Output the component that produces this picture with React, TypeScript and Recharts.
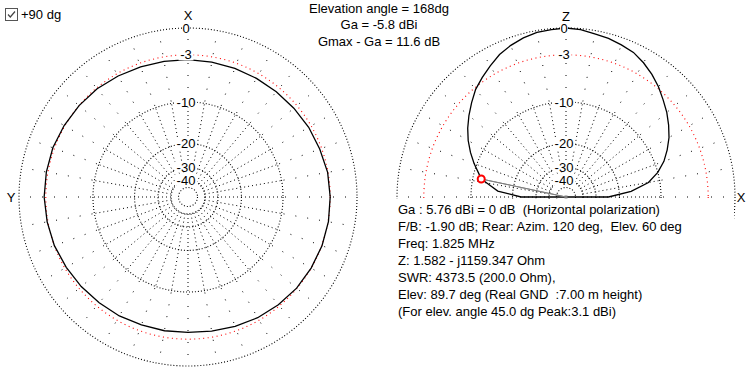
import { PolarAngleAxis, PolarGrid, PolarRadiusAxis, Radar, RadarChart } from "recharts";

// azimuth pattern, dB relative to Gmax, angle counter-clockwise from X (top)
const AZ_ANGLES = [
  0, 10, 20, 30, 40, 50, 60, 70, 80, 90, 100, 110, 120, 130, 140, 150, 160, 170,
  180, 190, 200, 210, 220, 230, 240, 250, 260, 270, 280, 290, 300, 310, 320, 330, 340, 350,
];
const AZ_GAIN = [
  -3.6, -3.55, -3.45, -3.3, -3.1, -3.0, -2.9, -2.8, -2.8, -2.8, -2.9, -3.0, -3.2, -3.35, -3.5, -3.6, -3.75, -3.8,
  -3.85, -3.75, -3.55, -3.35, -3.2, -3.05, -3.0, -2.95, -2.95, -3.0, -3.05, -3.25, -3.35, -3.5, -3.6, -3.65, -3.65, -3.65,
];

// elevation pattern, angle from +X horizon over Z to -X
const ELEV_ANGLES = [
  0, 5, 10, 15, 20, 25, 30, 35, 40, 45, 50, 55, 60, 65, 70, 75, 80, 85, 90,
  95, 100, 105, 110, 115, 120, 125, 130, 135, 140, 145, 150, 155, 160, 165, 170, 175, 180,
];
const ELEV_GAIN = [
  -24, -16.5, -12.2, -10.0, -8.4, -7.2, -6.1, -5.2, -4.35, -3.6, -2.8, -2.1, -1.5, -1.0, -0.75, -0.5, -0.35, -0.1, 0,
  -0.1, -0.2, -0.45, -0.8, -1.25, -1.9, -2.55, -3.2, -4.1, -5.0, -5.95, -7.0, -8.2, -9.5, -10.9, -12.9, -15.7, -23,
];

const MARKER_ANGLE = 168;
const MARKER_GAIN = -11.6;

const RING_DB = [0, -10, -20, -30, -40, -50];
const REF_DB = -3;
const LABEL_DB = [0, -3, -10, -20, -30, -40];

const HEADER = ["Elevation angle = 168dg", "Ga = -5.8 dBi", "Gmax - Ga = 11.6 dB"];
const INFO = [
  "Ga : 5.76 dBi = 0 dB  (Horizontal polarization)",
  "F/B: -1.90 dB; Rear: Azim. 120 deg,  Elev. 60 deg",
  "Freq: 1.825 MHz",
  "Z: 1.582 - j1159.347 Ohm",
  "SWR: 4373.5 (200.0 Ohm),",
  "Elev: 89.7 deg (Real GND  :7.00 m height)",
  "(For elev. angle 45.0 dg Peak:3.1 dBi)",
];

const FONT = "'Liberation Sans', Arial, sans-serif";
const R = 169;
const CY = 197;
const NO_MARGIN = { top: 0, right: 0, bottom: 0, left: 0 };

// MMANA draws the radius on a 40 dB log scale
const amp = (db: number) => Math.pow(10, db / 40);

const azRows = AZ_ANGLES.map((angle, i) => ({ angle, amp: amp(AZ_GAIN[i]) }));

const elevSorted = [
  ...ELEV_ANGLES.map((angle, i) => ({ angle, gain: ELEV_GAIN[i] })),
  { angle: MARKER_ANGLE, gain: MARKER_GAIN },
].sort((a, b) => a.angle - b.angle);
const elevRows = elevSorted.map((r, i) => ({
  angle: r.angle,
  amp: amp(r.gain),
  // line from origin (previous row, radius 0) to the marked point
  mark:
    r.angle === MARKER_ANGLE
      ? amp(MARKER_GAIN)
      : elevSorted[i + 1]?.angle === MARKER_ANGLE
        ? 0
        : null,
}));

const ringRadii = RING_DB.map((db) => R * amp(db));

function spokeDash() {
  const parts = [0, 17];
  let pos = 17;
  while (pos < 96) {
    parts.push(1, 3);
    pos += 4;
  }
  while (pos < R + 6) {
    parts.push(1, 11);
    pos += 12;
  }
  return parts.join(" ");
}
const SPOKE_DASH = spokeDash();

const RadiusTick = (p: any) => {
  const db = Math.round(40 * Math.log10(p.payload.value));
  const label = String(db);
  const w = label.length * 7 + 1;
  return (
    <g>
      <rect x={p.x - 2 - w / 2} y={p.y - 5.5} width={w} height={11} fill="#fff" />
      <text x={p.x - 2} y={p.y} dy="0.36em" textAnchor="middle" fontSize={13} fontFamily={FONT} fill="#000">
        {label}
      </text>
    </g>
  );
};

const angleTick = (labels: Record<number, { text: string; dx: number; dy: number }>) => (p: any) => {
  const l = labels[p.payload.value];
  if (!l) return <g />;
  return (
    <text x={p.x + l.dx} y={p.y + l.dy} dy="0.36em" textAnchor="middle" fontSize={13} fontFamily={FONT} fill="#000">
      {l.text}
    </text>
  );
};

const renderMark = (p: any) => {
  const row = p.payload?.payload ?? p.payload;
  if (!row || row.mark == null || !Number.isFinite(p.cx) || !Number.isFinite(p.cy)) return <g key={p.index} />;
  if (row.mark === 0)
    return <rect key={p.index} x={p.cx - 1.5} y={p.cy - 1.5} width={3} height={3} fill="#808080" />;
  return <circle key={p.index} cx={p.cx} cy={p.cy} r={3.5} stroke="#ff0000" strokeWidth={2} fill="#fff" />;
};

function Grid({ angles }: { angles: number[] }) {
  return (
    <>
      <PolarGrid gridType="circle" polarRadius={ringRadii} polarAngles={[]} radialLines={false} stroke="#000" strokeWidth={1.1} strokeDasharray="1 2" />
      <PolarGrid gridType="circle" polarRadius={[R * amp(REF_DB)]} polarAngles={[]} radialLines={false} stroke="#ff0000" strokeWidth={1.1} strokeDasharray="1 3.5" />
      <PolarGrid gridType="circle" polarRadius={[]} polarAngles={angles} stroke="#000" strokeDasharray={SPOKE_DASH} />
    </>
  );
}

const SPOKES = AZ_ANGLES;

export default function App() {
  return (
    <div
      style={{
        position: "relative",
        width: 752,
        height: 376,
        background: "#fff",
        fontFamily: FONT,
        fontSize: 13,
        lineHeight: "15px",
        color: "#000",
        overflow: "hidden",
      }}
    >
      <style>{"body{margin:0}"}</style>

      <div style={{ position: "absolute", left: 0, top: 0 }}>
        <RadarChart width={376} height={376} data={azRows} cx={188} cy={CY} outerRadius={R} startAngle={90} endAngle={450} margin={NO_MARGIN}>
          <Grid angles={SPOKES} />
          <PolarRadiusAxis type="number" domain={[0, 1]} angle={90} ticks={LABEL_DB.map(amp)} axisLine={false} tickLine={false} tick={RadiusTick} />
          <Radar dataKey="amp" stroke="#000" strokeWidth={1.3} fill="none" dot={false} isAnimationActive={false} />
          <PolarAngleAxis
            dataKey="angle"
            type="number"
            domain={[0, 360]}
            axisLine={false}
            tickLine={false}
            tick={angleTick({ 0: { text: "X", dx: 0, dy: -5 }, 90: { text: "Y", dx: 0, dy: 0 } })}
          />
        </RadarChart>
      </div>

      <div style={{ position: "absolute", left: 376, top: 0 }}>
        <RadarChart width={376} height={376} data={elevRows} cx={190} cy={CY} outerRadius={R} startAngle={0} endAngle={360} margin={NO_MARGIN}>
          <Grid angles={SPOKES} />
          <PolarRadiusAxis type="number" domain={[0, 1]} angle={90} ticks={LABEL_DB.map(amp)} axisLine={false} tickLine={false} tick={RadiusTick} />
          <Radar dataKey="amp" stroke="#000" strokeWidth={1.3} fill="none" dot={false} isAnimationActive={false} />
          <Radar dataKey="mark" stroke="#808080" strokeWidth={1} fill="none" dot={renderMark} isAnimationActive={false} />
          <PolarAngleAxis
            dataKey="angle"
            type="number"
            domain={[0, 360]}
            axisLine={false}
            tickLine={false}
            tick={angleTick({ 0: { text: "X", dx: -2, dy: 0 }, 90: { text: "Z", dx: 0, dy: -4 } })}
          />
        </RadarChart>
      </div>

      {/* elevation plot shows only the upper half */}
      <div style={{ position: "absolute", left: 376, top: 199, width: 358, height: 177, background: "#fff" }} />

      <div style={{ position: "absolute", left: 5, top: 8 }}>
        <svg width={13} height={13}>
          <rect x={0.5} y={0.5} width={12} height={12} fill="#fff" stroke="#555" />
          <path d="M3 6.5 L5.3 9 L10 3.5" fill="none" stroke="#444" strokeWidth={1.2} />
        </svg>
      </div>
      <div style={{ position: "absolute", left: 21, top: 6.5 }}>+90 dg</div>

      {HEADER.map((t, i) => (
        <div key={t} style={{ position: "absolute", left: 279, width: 200, top: [0.5, 16.5, 33.5][i], textAlign: "center", whiteSpace: "pre" }}>
          {t}
        </div>
      ))}

      {INFO.map((t, i) => (
        <div key={t} style={{ position: "absolute", left: 398, top: 202 + 17 * i, whiteSpace: "pre" }}>
          {t}
        </div>
      ))}
    </div>
  );
}
